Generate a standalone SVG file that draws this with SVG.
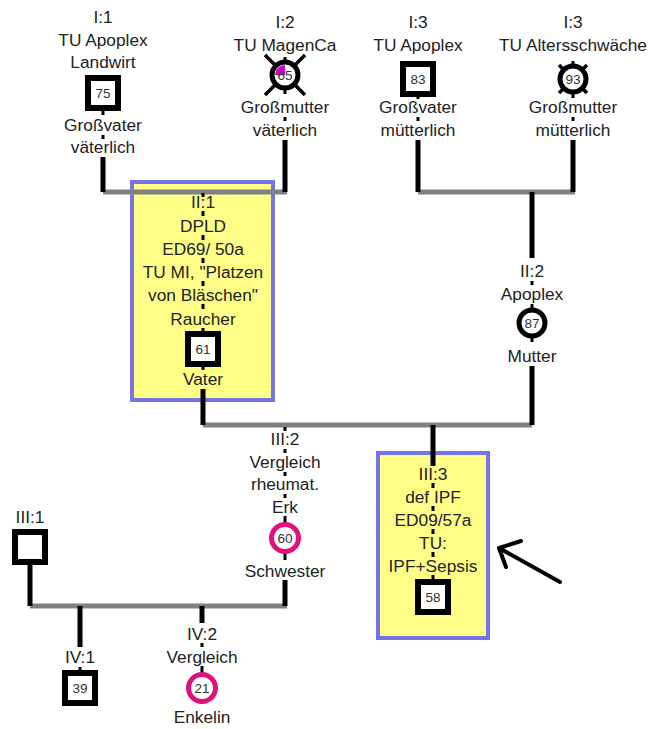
<svg xmlns="http://www.w3.org/2000/svg" width="651" height="729" viewBox="0 0 651 729">
<style>
text{font-family:"Liberation Sans",Arial,sans-serif;font-size:17.3px;fill:#222;text-anchor:middle}
text.n{font-size:13.5px;fill:#333}
.bar{stroke:#808080;stroke-width:5;fill:none}
.ln{stroke:#000;stroke-width:5;fill:none}
.d{stroke:#000;stroke-width:3;fill:none}
.sq{fill:#fff;stroke:#000;stroke-width:6}
.ci{fill:#fff;stroke:#000;stroke-width:5}
.cm{fill:#fff;stroke:#e0117a;stroke-width:5}
.x{stroke:#000;stroke-width:3.5}
.box{fill:#ffff88;stroke:#7474e6;stroke-width:4}
.arr{stroke:#000;stroke-width:4;fill:none;stroke-linecap:round;stroke-linejoin:round}
</style>
<rect width="651" height="729" fill="#fff"/>
<g id="box-II1"><rect class="box" x="132" y="182" width="141" height="218"/></g>
<g id="box-III3"><rect class="box" x="378" y="453" width="110" height="185"/></g>
<g id="connectors">
<path class="bar" d="M103,192H287M418,192H575M203,425H532M30,606H287"/>
<path class="ln" d="M103,157V192M285,140V192M418,140V192M573,140V192M532,192V258M532,366V425M203,389V425M433,425V466M285,580V606M30,562V606M80,606V647M202,606V623"/>
<path class="d" d="M103,108V115M103,135V139M285,57V62M285,88V94M285,117V121M418,94V99M418,117V121M573,61V66M573,92V98M573,117V121M532,281V285M532,304V309M532,336V342M203,193V197M203,211V216M203,235V240M203,258V263M203,281V286M203,304V309M203,328V334M203,364V370M285,427V431M285,449V453M285,472V476M285,494V498M285,516V523M285,553V560M433,483V488M433,506V511M433,529V534M433,552V557M433,575V582M202,643V647M202,666V674M80,667V673"/>
<path class="arr" d="M560,582L499,548M521,541L499,548L506,567"/>
</g>
<g id="I1">
<text x="103" y="23">I:1</text><text x="103" y="46">TU Apoplex</text><text x="103" y="68">Landwirt</text>
<rect class="sq" x="88" y="78" width="30" height="30"/><text class="n" x="103" y="98">75</text>
<text x="103" y="131">Großvater</text><text x="103" y="153">väterlich</text>
</g>
<g id="I2">
<text x="285" y="28">I:2</text><text x="285" y="51">TU MagenCa</text>
<path class="x" d="M265,55L305,95M305,55L265,95"/>
<circle class="ci" cx="285" cy="75" r="13"/>
<path d="M285,75H275A10,10 0 0 1 285,65Z" fill="#d000d0"/>
<text class="n" x="285" y="80">65</text>
<text x="285" y="113">Großmutter</text><text x="285" y="136">väterlich</text>
</g>
<g id="I3a">
<text x="418" y="28">I:3</text><text x="418" y="51">TU Apoplex</text>
<rect class="sq" x="403" y="64" width="30" height="30"/><text class="n" x="418" y="84">83</text>
<text x="418" y="113">Großvater</text><text x="418" y="136">mütterlich</text>
</g>
<g id="I3b">
<text x="573" y="28">I:3</text><text x="573" y="51">TU Altersschwäche</text>
<path class="x" d="M559,65L587,93M587,65L559,93"/>
<circle class="ci" cx="573" cy="79" r="13"/><text class="n" x="573" y="84">93</text>
<text x="573" y="113">Großmutter</text><text x="573" y="136">mütterlich</text>
</g>
<g id="II1">
<text x="203" y="208">II:1</text><text x="203" y="232">DPLD</text><text x="203" y="255">ED69/ 50a</text>
<text x="203" y="278">TU MI, "Platzen</text><text x="203" y="301">von Bläschen"</text><text x="203" y="325">Raucher</text>
<rect class="sq" x="188" y="334" width="30" height="30"/><text class="n" x="203" y="354">61</text>
<text x="203" y="385">Vater</text>
</g>
<g id="II2">
<text x="532" y="277">II:2</text><text x="532" y="300">Apoplex</text>
<circle class="ci" cx="532" cy="323" r="13"/><text class="n" x="532" y="328">87</text>
<text x="532" y="362">Mutter</text>
</g>
<g id="III1">
<text x="30" y="523">III:1</text>
<rect class="sq" x="15" y="532" width="30" height="30"/>
</g>
<g id="III2">
<text x="285" y="445">III:2</text><text x="285" y="468">Vergleich</text><text x="285" y="490">rheumat.</text><text x="285" y="513">Erk</text>
<circle class="cm" cx="285" cy="538" r="13.5"/><text class="n" x="285" y="543">60</text>
<text x="285" y="577">Schwester</text>
</g>
<g id="III3">
<text x="433" y="480">III:3</text><text x="433" y="503">def IPF</text><text x="433" y="526">ED09/57a</text><text x="433" y="549">TU:</text><text x="433" y="572">IPF+Sepsis</text>
<rect class="sq" x="418" y="582" width="30" height="30"/><text class="n" x="433" y="602">58</text>
</g>
<g id="IV1">
<text x="80" y="663">IV:1</text>
<rect class="sq" x="65" y="673" width="30" height="30"/><text class="n" x="80" y="693">39</text>
</g>
<g id="IV2">
<text x="202" y="640">IV:2</text><text x="202" y="663">Vergleich</text>
<circle class="cm" cx="202" cy="688" r="13.5"/><text class="n" x="202" y="693">21</text>
<text x="202" y="723">Enkelin</text>
</g>
</svg>
